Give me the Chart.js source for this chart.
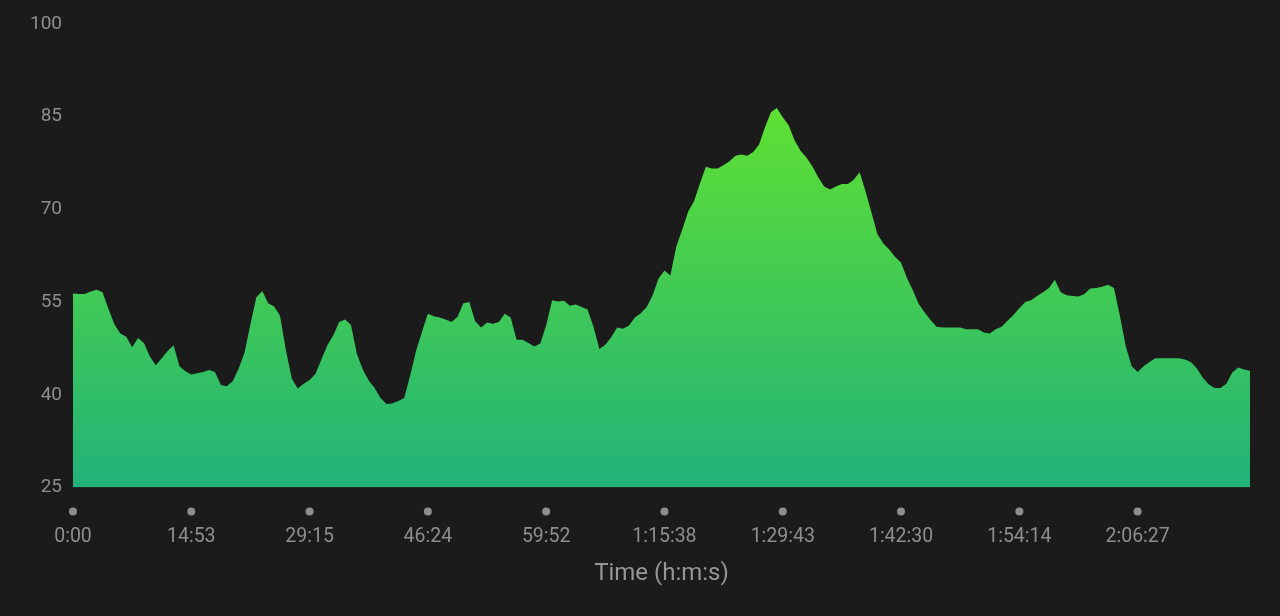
<!DOCTYPE html>
<html>
<head>
<meta charset="utf-8">
<script src="https://cdn.jsdelivr.net/npm/chart.js@4.4.1/dist/chart.umd.min.js"></script>
<style>
  html, body { margin: 0; padding: 0; background: #1b1b1b; }
  #wrap { width: 1280px; height: 616px; position: relative; }
</style>
</head>
<body>
<div id="wrap"><canvas id="c" width="1280" height="616"></canvas></div>
<script>
// Tick labels shown on the x axis (one every 20 samples)
const xTickLabels = ['0:00', '14:53', '29:15', '46:24', '59:52', '1:15:38', '1:29:43', '1:42:30', '1:54:14', '2:06:27'];
const tickEvery = 20;

// Series values
const values = [
  56.4, 56.3, 56.3, 56.7, 57.0, 56.6, 53.9, 51.4, 49.9, 49.4,
  47.7, 49.2, 48.4, 46.2, 44.8, 45.9, 47.1, 48.0, 44.6, 43.8,
  43.3, 43.5, 43.7, 44.0, 43.7, 41.6, 41.4, 42.2, 44.2, 46.8,
  51.4, 55.8, 56.8, 54.8, 54.3, 52.8, 47.2, 42.6, 41.0, 41.8,
  42.4, 43.4, 45.7, 48.0, 49.6, 51.8, 52.2, 51.3, 46.6, 44.1,
  42.3, 41.1, 39.5, 38.5, 38.6, 39.0, 39.5, 43.1, 47.1, 50.2,
  53.1, 52.7, 52.5, 52.2, 51.8, 52.6, 54.8, 55.0, 51.9, 50.9,
  51.7, 51.5, 51.8, 53.1, 52.5, 48.9, 48.9, 48.4, 47.8, 48.3,
  51.2, 55.3, 55.1, 55.2, 54.4, 54.6, 54.2, 53.8, 51.0, 47.4,
  48.1, 49.3, 50.9, 50.7, 51.2, 52.5, 53.2, 54.2, 56.1, 58.8,
  60.1, 59.3, 64.0, 66.7, 69.6, 71.3, 74.2, 76.9, 76.6, 76.6,
  77.2, 77.8, 78.7, 78.9, 78.7, 79.3, 80.5, 83.3, 85.7, 86.4,
  84.9, 83.6, 81.2, 79.5, 78.4, 77.0, 75.2, 73.7, 73.2, 73.7,
  74.1, 74.1, 74.8, 76.0, 72.9, 69.5, 66.0, 64.5, 63.5, 62.3,
  61.4, 58.9, 56.9, 54.7, 53.3, 52.1, 51.0, 50.9, 50.9, 50.9,
  50.9, 50.6, 50.6, 50.6, 50.1, 49.9, 50.6, 51.0, 52.0, 52.9,
  54.0, 55.0, 55.3, 56.0, 56.6, 57.3, 58.6, 56.6, 56.1, 56.0,
  55.9, 56.3, 57.2, 57.3, 57.5, 57.8, 57.3, 52.8, 47.8, 44.6,
  43.7, 44.6, 45.3, 45.9, 45.9, 45.9, 45.9, 45.9, 45.7, 45.3,
  44.3, 42.8, 41.7, 41.1, 41.1, 41.8, 43.6, 44.4, 44.1, 43.9
];

// Y axis range and tick step
const yMin = 25;
const yMax = 100;
const yStep = 15;

// Categories: one per sample
const categories = values.map((v, i) => i);

const textGrey = '#8e8e8e';
const titleGrey = '#969696';

const tickDots = {
  id: 'tickDots',
  afterDraw(chart) {
    const x = chart.scales.x;
    const ctx = chart.ctx;
    ctx.save();
    ctx.fillStyle = '#8e8e8e';
    for (let i = 0; i < categories.length; i += tickEvery) {
      const px = x.getPixelForValue(i);
      ctx.beginPath();
      ctx.arc(px, chart.chartArea.bottom + 24, 4, 0, Math.PI * 2);
      ctx.fill();
    }
    ctx.restore();
  }
};

const ctx = document.getElementById('c').getContext('2d');
new Chart(ctx, {
  type: 'line',
  data: {
    labels: categories,
    datasets: [{
      data: values,
      fill: 'start',
      borderWidth: 0,
      borderColor: 'rgba(0,0,0,0)',
      pointRadius: 0,
      tension: 0,
      backgroundColor(context) {
        const chart = context.chart;
        const area = chart.chartArea;
        if (!area) return '#3cc65a';
        const yS = chart.scales.y;
        const top = yS.getPixelForValue(87);
        const g = chart.ctx.createLinearGradient(0, top, 0, area.bottom);
        g.addColorStop(0, '#5fe132');
        g.addColorStop(1, '#21b279');
        return g;
      }
    }]
  },
  options: {
    responsive: false,
    animation: false,
    devicePixelRatio: 1,
    layout: { padding: { top: 24, right: 30, left: 0, bottom: 0 } },
    plugins: { legend: { display: false }, tooltip: { enabled: false } },
    scales: {
      x: {
        type: 'category',
        offset: false,
        afterFit(scale) { scale.height = 128.5; },
        grid: { display: false, drawTicks: false },
        border: { display: false },
        ticks: {
          autoSkip: false,
          maxRotation: 0,
          minRotation: 0,
          padding: 38,
          color: textGrey,
          font: { family: 'Roboto', size: 19.5 },
          callback(val, idx) {
            return idx % tickEvery === 0 ? xTickLabels[idx / tickEvery] : null;
          }
        },
        title: {
          display: true,
          text: 'Time (h:m:s)',
          color: titleGrey,
          font: { family: 'Roboto', size: 24 },
          padding: { top: 0, bottom: 27.6 }
        }
      },
      y: {
        min: yMin,
        max: yMax,
        afterFit(scale) { scale.width = 73; },
        grid: { display: false, drawTicks: false },
        border: { display: false },
        ticks: {
          stepSize: yStep,
          padding: 11,
          color: textGrey,
          font: { family: 'Roboto', size: 19 }
        }
      }
    }
  },
  plugins: [tickDots]
});
</script>
</body>
</html>
